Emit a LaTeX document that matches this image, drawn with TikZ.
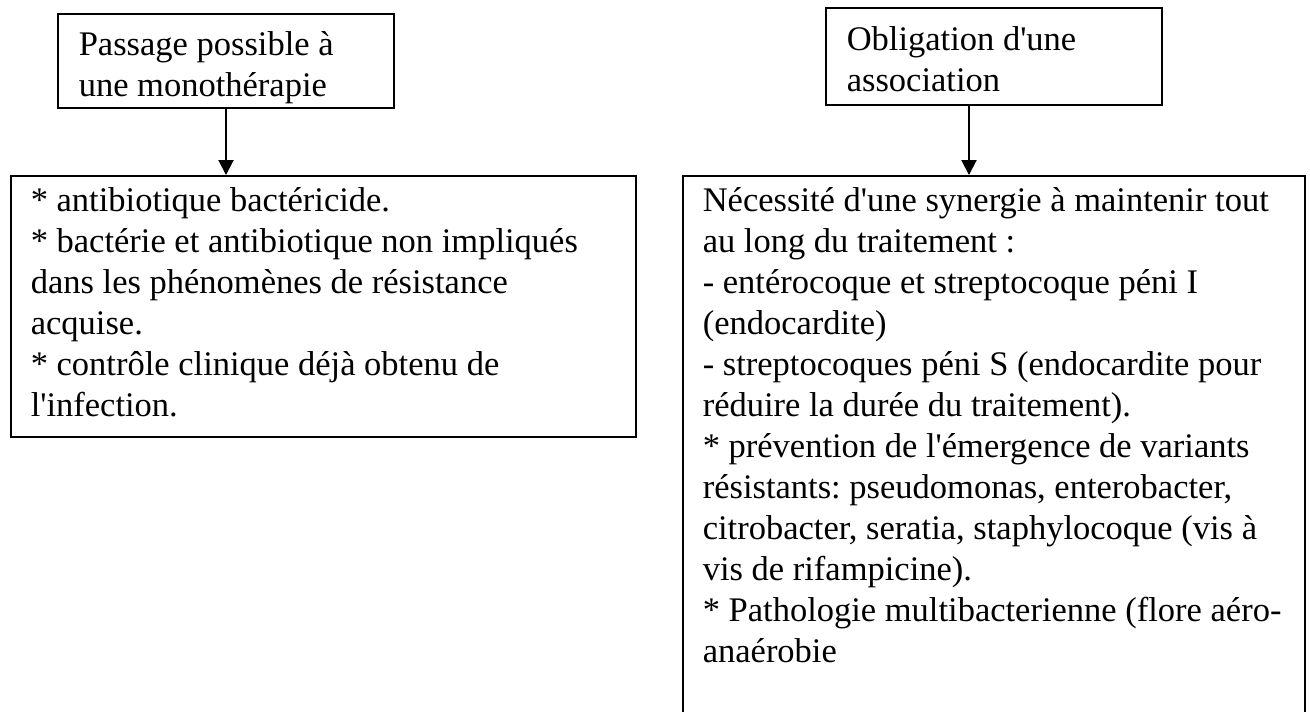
\documentclass[tikz,border=0pt]{standalone}
\usepackage{fontspec}
\setmainfont{Liberation Serif}[Ligatures=TeXOff]
\usetikzlibrary{arrows.meta}
\begin{document}
\begin{tikzpicture}[x=0.25pt,y=-0.25pt,
  box/.style={draw, line width=0.6pt, rectangle, inner sep=0pt, anchor=north west},
  txt/.style={anchor=north west, inner sep=0pt, align=left,
    font=\fontsize{8.625pt}{10.25pt}\selectfont\frenchspacing},
  conn/.style={line width=0.5pt, -{Triangle[length=3.75pt,width=3.75pt]}}]
\useasboundingbox (0,0) rectangle (1310,711);
\clip (0,0) rectangle (1310,711);
% boxes
\node[box, minimum width=84pt, minimum height=23.6pt] (tl) at (57,12.6) {};
\node[box, minimum width=84pt, minimum height=24.25pt] (tr) at (825,7) {};
\node[box, minimum width=156.25pt, minimum height=65.25pt] (l) at (10,175) {};
\node[box, minimum width=155.5pt, minimum height=141.25pt] (r) at (682,175) {};
% texts
\node[txt] (tlt) at (78,25) {\rule{0pt}{7.5pt}Passage possible à\\une monothérapie};
\node[txt] (trt) at (846,20) {\rule{0pt}{7.5pt}Obligation d'une\\association};
\node[txt] (lt) at (30,181) {\rule{0pt}{7.5pt}* antibiotique bactéricide.\\{}* bactérie et antibiotique non impliqués\\dans les phénomènes de résistance\\acquise.\\{}* contrôle clinique déjà obtenu de\\l'infection.};
\node[txt] (rt) at (702,181) {\rule{0pt}{7.5pt}Nécessité d'une synergie à maintenir tout\\au long du traitement :\\{}- entérocoque et streptocoque péni I\\(endocardite)\\{}- streptocoques péni S (endocardite pour\\réduire la durée du traitement).\\{}* prévention de l'émergence de variants\\résistants: pseudomonas, enterobacter,\\citrobacter, seratia, staphylocoque (vis à\\vis de rifampicine).\\{}* Pathologie multibacterienne (flore aéro-\\anaérobie};
% connectors
\draw[conn] ([xshift=42.25pt]tl.south west) -- ([xshift=42.25pt]tl.south west |- l.north);
\draw[conn] ([xshift=36pt]tr.south west) -- ([xshift=36pt]tr.south west |- r.north);
\end{tikzpicture}
\end{document}
